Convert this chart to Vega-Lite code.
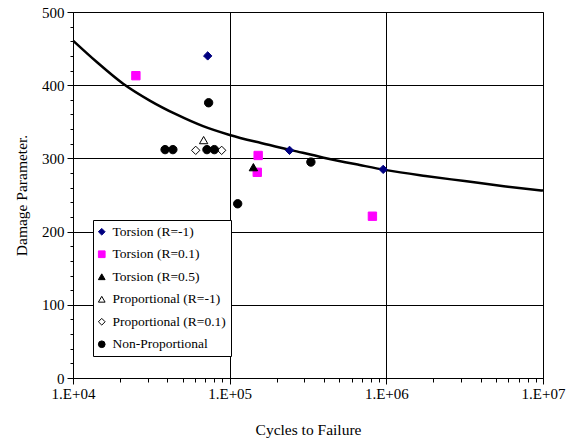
{
  "$schema": "https://vega.github.io/schema/vega-lite/v6.json",
  "autosize": {"type": "none"},
  "padding": {"left": 73, "top": 12, "right": 32, "bottom": 66},
  "width": 470,
  "height": 366,
  "background": "white",
  "config": {
    "font": "Liberation Serif",
    "view": {"stroke": "black", "strokeWidth": 1},
    "legend": {"labelFont": "Liberation Serif", "labelFontSize": 13.5, "labelColor": "black"}
  },
  "datasets": {
    "points": [
      {"series": "Torsion (R=-1)", "cycles": 72400, "damage": 440},
      {"series": "Torsion (R=-1)", "cycles": 241000, "damage": 311},
      {"series": "Torsion (R=-1)", "cycles": 955000, "damage": 285},
      {"series": "Torsion (R=0.1)", "cycles": 25200, "damage": 413},
      {"series": "Torsion (R=0.1)", "cycles": 152000, "damage": 304},
      {"series": "Torsion (R=0.1)", "cycles": 150000, "damage": 281},
      {"series": "Torsion (R=0.1)", "cycles": 815000, "damage": 221},
      {"series": "Torsion (R=0.5)", "cycles": 141700, "damage": 288},
      {"series": "Proportional (R=-1)", "cycles": 68200, "damage": 325},
      {"series": "Proportional (R=0.1)", "cycles": 60700, "damage": 311},
      {"series": "Proportional (R=0.1)", "cycles": 88900, "damage": 311},
      {"series": "Non-Proportional", "cycles": 38700, "damage": 312},
      {"series": "Non-Proportional", "cycles": 43400, "damage": 312},
      {"series": "Non-Proportional", "cycles": 71600, "damage": 312},
      {"series": "Non-Proportional", "cycles": 79800, "damage": 312},
      {"series": "Non-Proportional", "cycles": 73400, "damage": 376},
      {"series": "Non-Proportional", "cycles": 112500, "damage": 238},
      {"series": "Non-Proportional", "cycles": 330000, "damage": 295}
    ],
    "curve": [
      {"cycles": 10000, "damage": 461},
      {"cycles": 14125, "damage": 432},
      {"cycles": 20893, "damage": 402},
      {"cycles": 30903, "damage": 379},
      {"cycles": 45709, "damage": 360},
      {"cycles": 67608, "damage": 344},
      {"cycles": 100000, "damage": 332},
      {"cycles": 158489, "damage": 321},
      {"cycles": 251189, "damage": 311},
      {"cycles": 398107, "damage": 301},
      {"cycles": 676083, "damage": 291},
      {"cycles": 1000000, "damage": 284},
      {"cycles": 1778279, "damage": 276},
      {"cycles": 3162278, "damage": 269},
      {"cycles": 5623413, "damage": 262},
      {"cycles": 10000000, "damage": 256}
    ]
  },
  "encoding": {
    "x": {
      "field": "cycles", "type": "quantitative",
      "scale": {"type": "log", "domain": [10000, 10000000], "nice": false},
      "axis": {
        "title": "Cycles to Failure",
        "labelFont": "Liberation Serif", "titleFont": "Liberation Serif",
        "labelFontSize": 15, "titleFontSize": 15.5, "titleFontWeight": "normal",
        "labelColor": "black", "titleColor": "black",
        "domainColor": "black", "tickColor": "black", "gridColor": "black",
        "values": [10000, 20000, 30000, 40000, 50000, 60000, 70000, 80000, 90000, 100000, 200000, 300000, 400000, 500000, 600000, 700000, 800000, 900000, 1000000, 2000000, 3000000, 4000000, 5000000, 6000000, 7000000, 8000000, 9000000, 10000000],
        "labelExpr": "datum.value == 10000 ? '1.E+04' : datum.value == 100000 ? '1.E+05' : datum.value == 1000000 ? '1.E+06' : datum.value == 10000000 ? '1.E+07' : ''",
        "labelPadding": 2,
        "labelFlush": false,
        "labelOverlap": false,
        "titlePadding": 21,
        "tickSize": {"condition": {"test": "datum.value == 10000 || datum.value == 100000 || datum.value == 1000000 || datum.value == 10000000", "value": 6}, "value": 4},
        "grid": true,
        "gridOpacity": {"condition": {"test": "datum.value == 100000 || datum.value == 1000000", "value": 1}, "value": 0}
      }
    },
    "y": {
      "field": "damage", "type": "quantitative",
      "scale": {"domain": [0, 500], "nice": false},
      "axis": {
        "title": "Damage Parameter.",
        "labelFont": "Liberation Serif", "titleFont": "Liberation Serif",
        "labelFontSize": 15, "titleFontSize": 15.5, "titleFontWeight": "normal",
        "labelColor": "black", "titleColor": "black",
        "domainColor": "black", "tickColor": "black", "gridColor": "black",
        "values": [0, 20, 40, 60, 80, 100, 120, 140, 160, 180, 200, 220, 240, 260, 280, 300, 320, 340, 360, 380, 400, 420, 440, 460, 480, 500],
        "labelExpr": "datum.value % 100 === 0 ? datum.label : ''",
        "labelPadding": 3,
        "labelOverlap": false,
        "labelFlush": false,
        "titlePadding": 12,
        "tickSize": {"condition": {"test": "datum.value % 100 === 0", "value": 6}, "value": 3},
        "grid": true,
        "gridOpacity": {"condition": {"test": "datum.value % 100 === 0", "value": 1}, "value": 0}
      }
    }
  },
  "layer": [
    {
      "data": {"name": "curve"},
      "mark": {"type": "line", "color": "black", "strokeWidth": 2.5, "interpolate": "monotone"},
      "encoding": {}
    },
    {
      "data": {"name": "points"},
      "mark": {"type": "point", "opacity": 1, "strokeWidth": 1, "size": 70},
      "encoding": {
        "shape": {
          "field": "series", "type": "nominal",
          "scale": {
            "domain": ["Torsion (R=-1)", "Torsion (R=0.1)", "Torsion (R=0.5)", "Proportional (R=-1)", "Proportional (R=0.1)", "Non-Proportional"],
            "range": ["diamond", "square", "triangle-up", "triangle-up", "diamond", "circle"]
          },
          "legend": {
            "title": null, "orient": "none", "legendX": 20, "legendY": 208,
            "strokeColor": "black", "fillColor": "white", "padding": 5,
            "labelFont": "Liberation Serif", "labelFontSize": 13.5, "labelColor": "black",
            "symbolSize": 45, "symbolStrokeWidth": 1, "rowPadding": 7.5,
            "labelOffset": 4, "symbolOffset": -3
          }
        },
        "fill": {
          "field": "series", "type": "nominal",
          "scale": {
            "domain": ["Torsion (R=-1)", "Torsion (R=0.1)", "Torsion (R=0.5)", "Proportional (R=-1)", "Proportional (R=0.1)", "Non-Proportional"],
            "range": ["#000080", "#FF00FF", "black", "white", "white", "black"]
          }
        },
        "stroke": {
          "field": "series", "type": "nominal",
          "scale": {
            "domain": ["Torsion (R=-1)", "Torsion (R=0.1)", "Torsion (R=0.5)", "Proportional (R=-1)", "Proportional (R=0.1)", "Non-Proportional"],
            "range": ["#000080", "#FF00FF", "black", "black", "black", "black"]
          }
        }
      }
    }
  ]
}
